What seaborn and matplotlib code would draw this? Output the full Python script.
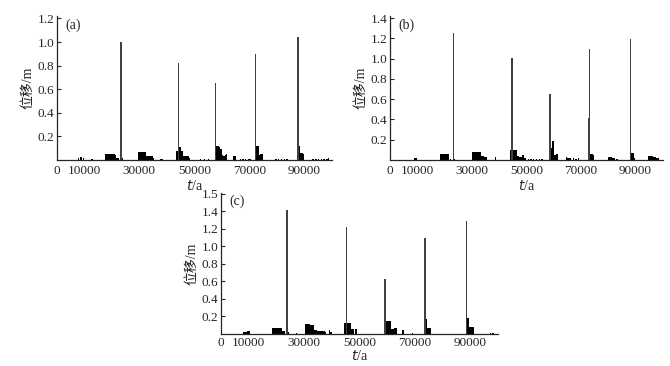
import numpy as np
import pandas as pd
import matplotlib
matplotlib.use('Agg')
import matplotlib.pyplot as plt
import seaborn as sns

# big events (gray spikes) and small events (black bars), t in years, d in m
t_a_main = [23250, 44250, 57750, 72250, 87750]
d_a_main = [1.00, 0.82, 0.65, 0.90, 1.04]
t_a_small = [7750, 8750, 9750, 12750,
             17750, 18250, 18750, 19250, 19750, 20250, 20750, 21250, 21750, 22250, 23750,
             29750, 30250, 30750, 31250, 31750, 32250, 32750, 33250, 33750, 34250, 34750, 35250,
             37750, 38250,
             43750, 44750, 45250, 45750, 46250, 46750, 47250, 47750, 48250,
             52250, 53750, 55250,
             58250, 58750, 59250, 59750, 60250, 60750, 61250, 61750,
             64250, 64750, 66750, 67750, 68750, 69750, 70250,
             72750, 73250, 73750, 74250, 74750,
             79750, 80750, 81750, 82750, 83750,
             88250, 88750, 89250, 89750,
             93250, 94250, 95250, 96250, 97250, 98250, 98750]
d_a_small = [0.02, 0.025, 0.02, 0.01,
             0.05, 0.05, 0.05, 0.05, 0.05, 0.05, 0.05, 0.04, 0.02, 0.02, 0.02,
             0.07, 0.07, 0.07, 0.07, 0.07, 0.07, 0.03, 0.03, 0.03, 0.03, 0.03, 0.02,
             0.01, 0.01,
             0.08, 0.11, 0.08, 0.08, 0.03, 0.03, 0.03, 0.03, 0.02,
             0.005, 0.005, 0.005,
             0.12, 0.12, 0.11, 0.09, 0.04, 0.03, 0.04, 0.05,
             0.03, 0.03, 0.01, 0.01, 0.01, 0.01, 0.01,
             0.12, 0.12, 0.04, 0.05, 0.05,
             0.01, 0.01, 0.01, 0.01, 0.01,
             0.12, 0.06, 0.06, 0.05,
             0.01, 0.01, 0.01, 0.01, 0.01, 0.01, 0.02]

t_b_main = [23250, 44750, 58750, 72750, 73250, 88250]
d_b_main = [1.25, 1.01, 0.65, 0.41, 1.10, 1.19]
t_b_small = [9250, 9750,
             18750, 19250, 19750, 20250, 20750, 21250, 22250, 23750,
             30250, 30750, 31250, 31750, 32250, 32750, 33250, 33750, 34250, 34750, 35250,
             38750,
             44250, 45250, 45750, 46250, 46750, 47250, 47750, 48250, 48750, 49250, 49750,
             50750, 51750, 52750, 53750, 54750, 55750,
             59250, 59750, 60250, 60750, 61250,
             64750, 65250, 65750, 66250, 67250, 68250, 69250,
             73750, 74250, 74750,
             80250, 80750, 81250, 81750, 82250, 83250,
             88750, 89250, 89750,
             94750, 95250, 95750, 96250, 96750, 97250, 97750, 98250]
d_b_small = [0.02, 0.02,
             0.06, 0.06, 0.06, 0.06, 0.06, 0.06, 0.01, 0.01,
             0.08, 0.08, 0.08, 0.08, 0.08, 0.08, 0.08, 0.04, 0.04, 0.03, 0.03,
             0.03,
             0.10, 0.10, 0.10, 0.10, 0.04, 0.04, 0.03, 0.03, 0.05, 0.02, 0.02,
             0.01, 0.01, 0.01, 0.01, 0.01, 0.01,
             0.12, 0.19, 0.05, 0.05, 0.06,
             0.03, 0.02, 0.02, 0.02, 0.02, 0.01, 0.02,
             0.06, 0.06, 0.05,
             0.03, 0.03, 0.03, 0.02, 0.02, 0.01,
             0.07, 0.07, 0.02,
             0.04, 0.04, 0.04, 0.04, 0.03, 0.03, 0.02, 0.02]

t_c_main = [23750, 45250, 59250, 73750, 88750]
d_c_main = [1.41, 1.22, 0.63, 1.09, 1.29]
t_c_small = [8250, 8750, 9250, 9750, 10250,
             18750, 19250, 19750, 20250, 20750, 21250, 21750, 22250, 22750, 24250,
             27250,
             30750, 31250, 31750, 32250, 32750, 33250, 33750, 34250, 34750, 35250, 35750,
             36250, 36750, 37250, 37750, 39250, 39750,
             44750, 45750, 46250, 46750, 47250, 47750, 48750,
             59750, 60250, 60750, 61250, 61750, 62250, 62750, 63250,
             65750, 69250,
             74250, 74750, 75250, 75750,
             89250, 89750, 90250, 90750, 91250,
             97250, 98250]
d_c_small = [0.02, 0.02, 0.02, 0.03, 0.03,
             0.07, 0.07, 0.07, 0.07, 0.07, 0.07, 0.07, 0.03, 0.03, 0.02,
             0.01,
             0.11, 0.11, 0.11, 0.10, 0.10, 0.10, 0.04, 0.04, 0.03, 0.03, 0.03,
             0.03, 0.03, 0.03, 0.02, 0.04, 0.02,
             0.12, 0.12, 0.12, 0.12, 0.05, 0.05, 0.05,
             0.15, 0.15, 0.15, 0.15, 0.06, 0.06, 0.07, 0.07,
             0.04, 0.01,
             0.17, 0.07, 0.07, 0.07,
             0.18, 0.08, 0.08, 0.08, 0.08,
             0.01, 0.01]

xticks = [0, 10000, 30000, 50000, 70000, 90000]

sns.set_theme(style='ticks')
plt.rcParams['font.family'] = ['Liberation Serif', 'Noto Sans CJK SC']
plt.rcParams['font.size'] = 9.5
plt.rcParams['axes.linewidth'] = 0.9

fig = plt.figure(figsize=(6.7, 3.66), dpi=100)

panels = [
    ('(a)', [0.085, 0.563, 0.410, 0.393], t_a_main, d_a_main, t_a_small, d_a_small, 1.22,
     [0.2, 0.4, 0.6, 0.8, 1.0, 1.2], ['0.2', '0.4', '0.6', '0.8', '1.0', '1.2'], 4, 1),
    ('(b)', [0.582, 0.563, 0.407, 0.393], t_b_main, d_b_main, t_b_small, d_b_small, 1.42,
     [0.2, 0.4, 0.6, 0.8, 1.0, 1.2, 1.4], ['0.2', '0.4', '0.6', '0.8', '1.0', '1.2', '1.4'], 4, 1),
    ('(c)', [0.330, 0.088, 0.413, 0.385], t_c_main, d_c_main, t_c_small, d_c_small, 1.61,
     [0.2, 0.4, 0.6, 0.8, 1.0, 1.2, 1.4, 1.6], ['0.2', '0.4', '0.6', '0.8', '1.0', '1.2', '1.4', '1.5'], 2.5, 0),
]

for name, rect, tm, dm, ts, ds, ytop, yt, ytl, tpad, xpad in panels:
    ax = fig.add_axes(rect)
    ax.set_facecolor('white')
    df_s = pd.DataFrame({'t': ts, 'd': ds})
    df_m = pd.DataFrame({'t': tm, 'd': dm})
    sns.histplot(data=df_s, x='t', weights='d', binwidth=500, binrange=(0, 100000),
                 color='black', alpha=1, linewidth=0, ax=ax)
    sns.histplot(data=df_m, x='t', weights='d', binwidth=500, binrange=(0, 100000),
                 color='#404040', alpha=1, linewidth=0, ax=ax)
    ax.set_xlim(0, 100000)
    ax.set_ylim(0, ytop)
    ax.set_xticks(xticks)
    ax.set_xticklabels([str(v) for v in xticks])
    ax.set_yticks(yt)
    ax.set_yticklabels(ytl)
    ax.tick_params(axis='y', direction='in', length=3, width=0.8, pad=2, labelsize=9.5)
    ax.tick_params(axis='x', length=0, pad=tpad, labelsize=9.5)
    sns.despine(ax=ax)
    ax.set_ylabel('位移/m', fontsize=10, labelpad=2)
    ax.set_xlabel('$t$/a', fontsize=10, labelpad=xpad)
    ax.text(0.03, 0.985, name, transform=ax.transAxes, ha='left', va='top', fontsize=10)

fig.savefig('out.png', dpi=100, facecolor='white')
